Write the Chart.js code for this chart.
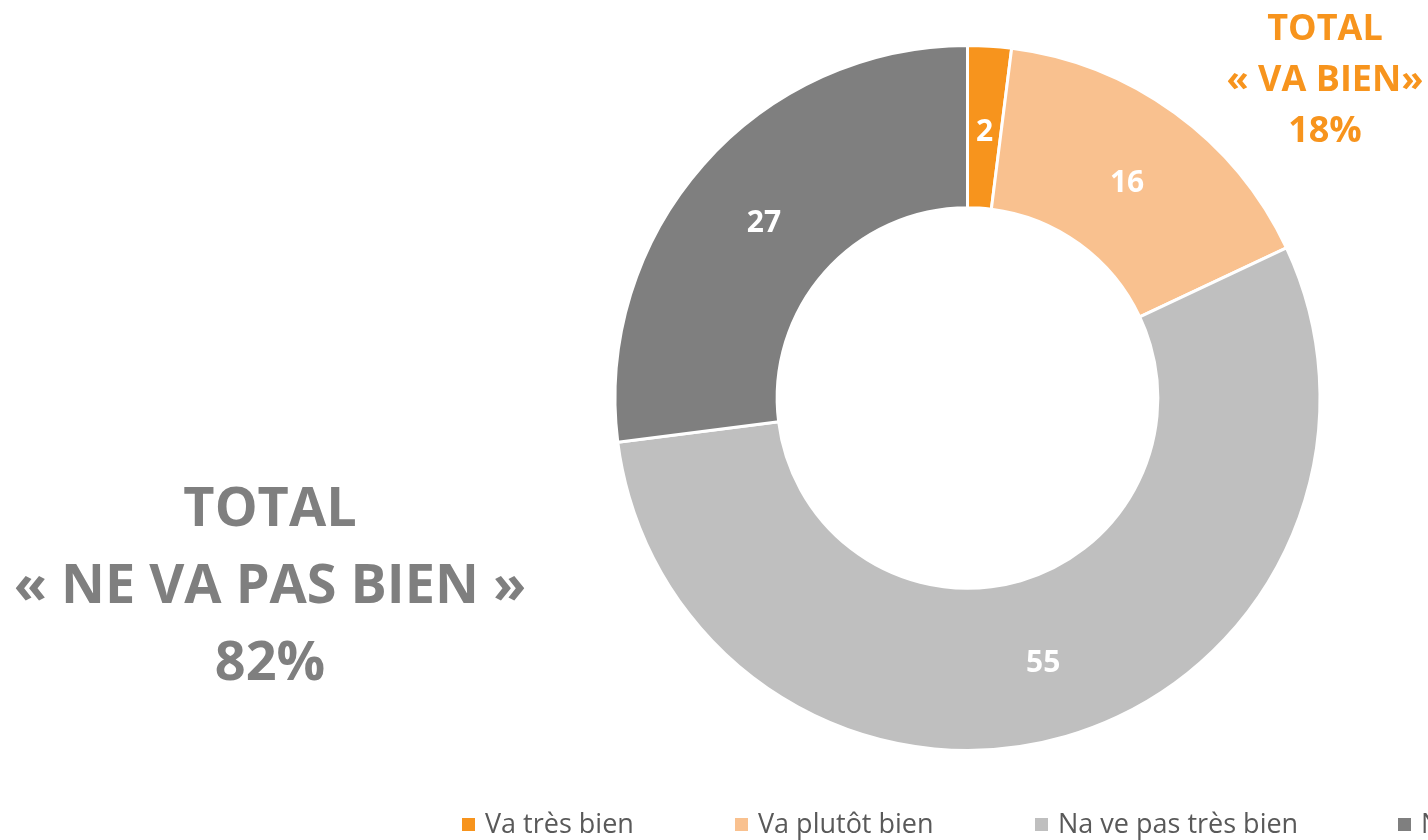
<!DOCTYPE html>
<html><head><meta charset="utf-8">
<script src="https://cdn.jsdelivr.net/npm/chart.js@4.4.0/dist/chart.umd.min.js"></script>
<style>html,body{margin:0;padding:0;background:#fff;overflow:hidden}#wrap{position:relative;width:1428px;height:840px}</style>
</head><body><div id="wrap"><canvas id="c" width="1428" height="840"></canvas></div>
<script>
const categories = ["Va très bien", "Va plutôt bien", "Na ve pas très bien", "Ne va pas bien du tout"];
const values = [2, 16, 55, 27];
const colors = ["#F7941D", "#F9C18F", "#BFBFBF", "#7F7F7F"];
const totalGood = ["TOTAL", "« VA BIEN»", "18%"];
const totalBad = ["TOTAL", "« NE VA PAS BIEN »", "82%"];

const FONT = "'Open Sans', 'Noto Sans', sans-serif";

const overlay = {
  id: 'overlay',
  afterDatasetsDraw(chart) {
    const ctx = chart.ctx;
    const meta = chart.getDatasetMeta(0);
    ctx.save();
    ctx.textAlign = 'center';
    ctx.textBaseline = 'middle';
    ctx.fillStyle = '#fff';
    ctx.font = "bold 30px " + FONT;
    meta.data.forEach((arc, i) => {
      const p = arc.getCenterPoint();
      ctx.fillText(String(values[i]), p.x, p.y + 5);
    });
    // totals
    ctx.fillStyle = '#F7941D';
    ctx.font = "bold 36px " + FONT;
    totalGood.forEach((t, i) => ctx.fillText(t, 1325, 30 + i * 51));
    ctx.fillStyle = '#7F7F7F';
    ctx.font = "bold 54px " + FONT;
    totalBad.forEach((t, i) => ctx.fillText(t, 270, 511 + i * 77));
    // legend
    const xs = [462, 735, 1035, 1398];
    ctx.textAlign = 'left';
    ctx.font = "27px " + FONT;
    categories.forEach((c, i) => {
      ctx.fillStyle = colors[i];
      ctx.fillRect(xs[i], 818, 13, 13);
      ctx.fillStyle = '#595959';
      ctx.fillText(c, xs[i] + 23, 825);
    });
    ctx.restore();
  }
};

new Chart(document.getElementById('c'), {
  type: 'doughnut',
  data: {
    labels: categories,
    datasets: [{
      data: values,
      backgroundColor: colors,
      borderColor: '#ffffff',
      borderWidth: 3
    }]
  },
  options: {
    responsive: false,
    animation: false,
    cutout: '54%',
    layout: { padding: { top: 44, bottom: 88, left: 613, right: 106 } },
    plugins: { legend: { display: false }, tooltip: { enabled: false } }
  },
  plugins: [overlay]
});
</script></body></html>
